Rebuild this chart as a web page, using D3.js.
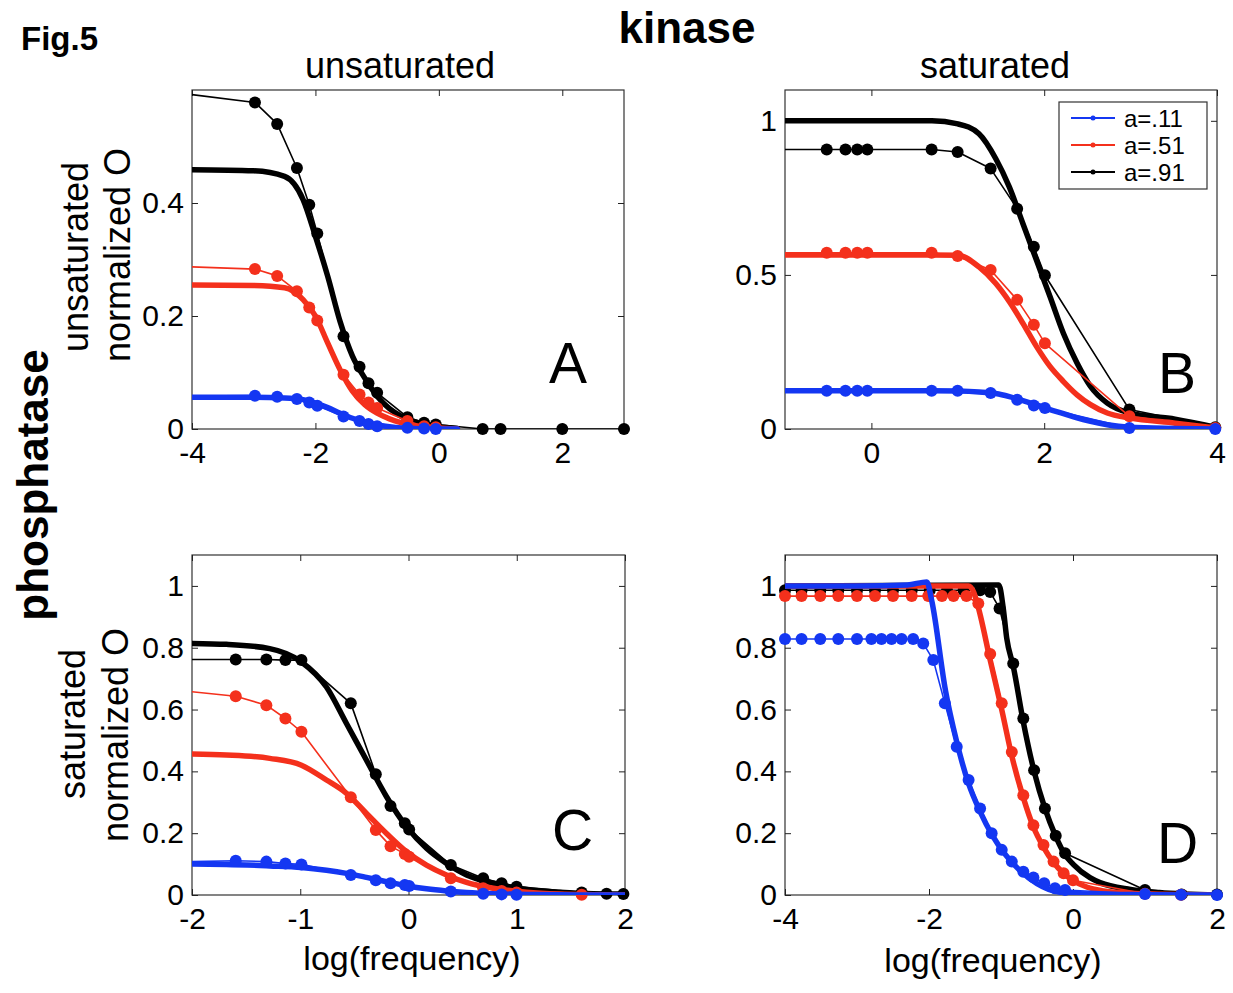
<!DOCTYPE html>
<html>
<head>
<meta charset="utf-8">
<script src="https://d3js.org/d3.v7.min.js"></script>
<style>
  body { margin: 0; background: #fff; }
  text { font-family: "Liberation Sans", Arial, sans-serif; fill: #000; }
  .tick line { stroke: #222; }
</style>
</head>
<body>
<div id="my_dataviz"></div>
<script>
// ---------- data ----------
var legendLabels = ["a=.11", "a=.51", "a=.91"];
var seriesColors = ["#1437f2", "#f4301c", "#000000"];

// panel A : unsaturated kinase / unsaturated phosphatase
var A_xTicks = [-4, -2, 0, 2];
var A_yTicks = [0, 0.2, 0.4];
var A_dotX      = [-4.3, -2.98, -2.62, -2.30, -2.10, -1.97, -1.545, -1.285, -1.14, -1.0, -0.51, -0.24, -0.05];
var A_dotX_blk  = [-4.3, -2.98, -2.62, -2.30, -2.10, -1.97, -1.545, -1.285, -1.14, -1.0, -0.51, -0.24, -0.05, 0.71, 1.0, 2.0, 3.0];
var A_dot_blue  = [0.058, 0.059, 0.057, 0.053, 0.047, 0.041, 0.022, 0.014, 0.009, 0.005, 0.002, 0.001, 0.0];
var A_dot_red   = [0.288, 0.283, 0.271, 0.244, 0.215, 0.192, 0.096, 0.061, 0.047, 0.037, 0.014, 0.005, 0.003];
var A_dot_blk   = [0.596, 0.578, 0.54, 0.462, 0.397, 0.346, 0.164, 0.110, 0.081, 0.064, 0.021, 0.011, 0.008, 0, 0, 0, 0];
var A_fitX      = [-4, -3, -2.5, -2.2, -2.0, -1.8, -1.6, -1.4, -1.2, -1.0, -0.8, -0.6, -0.4, -0.2, 0, 0.3];
var A_fit_blue  = [0.056, 0.056, 0.055, 0.052, 0.046, 0.038, 0.028, 0.019, 0.012, 0.007, 0.004, 0.002, 0.001, 0.0, 0, 0];
var A_fit_red   = [0.255, 0.254, 0.25, 0.229, 0.2, 0.152, 0.105, 0.067, 0.043, 0.028, 0.018, 0.011, 0.006, 0.004, 0.002, 0];
var A_fit_blk   = [0.459, 0.457, 0.447, 0.406, 0.341, 0.27, 0.19, 0.129, 0.09, 0.058, 0.036, 0.022, 0.013, 0.008, 0.004, 0.001];

// panel B : saturated kinase / unsaturated phosphatase
var B_xTicks = [0, 2, 4];
var B_yTicks = [0, 0.5, 1];
var B_dotX      = [-1.3, -0.517, -0.30, -0.164, -0.047, 0.697, 0.998, 1.38, 1.687, 1.88, 2.008, 2.986, 3.98];
var B_dot_blue  = [0.124, 0.124, 0.124, 0.124, 0.124, 0.124, 0.124, 0.117, 0.095, 0.076, 0.068, 0.003, 0.0];
var B_dot_red   = [0.572, 0.572, 0.572, 0.572, 0.572, 0.572, 0.561, 0.516, 0.419, 0.338, 0.278, 0.041, 0.003];
var B_dot_blk   = [0.907, 0.907, 0.907, 0.907, 0.907, 0.907, 0.899, 0.845, 0.715, 0.591, 0.499, 0.063, 0.006];
var B_fitX      = [-1, 0, 0.7, 1.0, 1.245, 1.44, 1.597, 1.753, 1.91, 2.067, 2.223, 2.38, 2.536, 2.73, 2.986, 3.515, 4.0];
var B_fit_blue  = [0.124, 0.124, 0.124, 0.123, 0.12, 0.115, 0.105, 0.092, 0.078, 0.063, 0.05, 0.036, 0.025, 0.014, 0.006, 0.002, 0.0];
var B_fit_red   = [0.565, 0.565, 0.565, 0.564, 0.526, 0.472, 0.413, 0.343, 0.268, 0.203, 0.154, 0.111, 0.079, 0.052, 0.036, 0.019, 0.003];
var B_fit_blk   = [1.0, 1.0, 1.0, 0.99, 0.958, 0.877, 0.785, 0.667, 0.548, 0.43, 0.31, 0.214, 0.138, 0.084, 0.052, 0.032, 0.005];

// panel C : unsaturated kinase / saturated phosphatase
var C_xTicks = [-2, -1, 0, 1, 2];
var C_yTicks = [0, 0.2, 0.4, 0.6, 0.8, 1];
var C_dotX_blue = [-2.3, -1.596, -1.313, -1.137, -0.989, -0.533, -0.302, -0.166, -0.034, 0.006, 0.391, 0.69, 0.86, 0.998];
var C_dotX_red  = [-2.3, -1.596, -1.313, -1.137, -0.989, -0.533, -0.302, -0.166, -0.034, 0.006, 0.391, 0.69, 0.86, 0.998, 1.6];
var C_dotX_blk  = [-2.3, -1.596, -1.313, -1.137, -0.989, -0.533, -0.302, -0.166, -0.034, 0.006, 0.391, 0.69, 0.86, 0.998, 1.6, 1.83, 1.985];
var C_dot_blue  = [0.106, 0.111, 0.108, 0.102, 0.099, 0.065, 0.048, 0.038, 0.032, 0.029, 0.011, 0.004, 0.002, 0.001];
var C_dot_red   = [0.668, 0.643, 0.614, 0.571, 0.528, 0.316, 0.21, 0.158, 0.133, 0.124, 0.054, 0.022, 0.013, 0.008, 0.001];
var C_dot_blk   = [0.762, 0.762, 0.762, 0.76, 0.76, 0.62, 0.391, 0.288, 0.232, 0.212, 0.097, 0.054, 0.038, 0.027, 0.008, 0.004, 0.003];
var C_fitX      = [-2, -1.683, -1.282, -0.989, -0.758, -0.573, -0.388, -0.203, -0.018, 0.166, 0.351, 0.536, 0.783, 1.091, 1.399, 1.707, 2];
var C_fit_blue  = [0.1, 0.099, 0.094, 0.089, 0.08, 0.07, 0.057, 0.043, 0.03, 0.02, 0.013, 0.008, 0.004, 0.002, 0.001, 0, 0];
var C_fit_red   = [0.456, 0.453, 0.442, 0.42, 0.372, 0.329, 0.264, 0.199, 0.14, 0.097, 0.065, 0.041, 0.022, 0.009, 0.003, 0.001, 0];
var C_fit_blk   = [0.814, 0.811, 0.797, 0.754, 0.673, 0.555, 0.436, 0.318, 0.221, 0.151, 0.102, 0.065, 0.038, 0.018, 0.009, 0.004, 0.003];

// panel D : saturated kinase / saturated phosphatase
var D_xTicks = [-4, -2, 0, 2];
var D_yTicks = [0, 0.2, 0.4, 0.6, 0.8, 1];
var D_dotX_blue = [-4, -3.77, -3.51, -3.26, -3.0, -2.8, -2.66, -2.52, -2.38, -2.22, -2.08, -1.94, -1.78, -1.615, -1.45, -1.29, -1.13, -0.99, -0.85, -0.69, -0.55, -0.40, -0.25, -0.11, 1.0, 1.5, 2.0];
var D_dot_blue  = [0.828, 0.828, 0.828, 0.828, 0.828, 0.828, 0.828, 0.828, 0.828, 0.828, 0.814, 0.76, 0.62, 0.48, 0.372, 0.28, 0.2, 0.146, 0.108, 0.075, 0.057, 0.038, 0.022, 0.016, 0.003, 0.001, 0];
var D_dotX_red  = [-4, -3.77, -3.51, -3.26, -3.0, -2.75, -2.5, -2.24, -2.01, -1.82, -1.66, -1.48, -1.315, -1.15, -0.99, -0.85, -0.69, -0.55, -0.41, -0.27, -0.13, 0.0, 1.0, 1.5];
var D_dot_red   = [0.967, 0.967, 0.967, 0.967, 0.967, 0.967, 0.967, 0.967, 0.967, 0.967, 0.967, 0.967, 0.943, 0.78, 0.62, 0.463, 0.323, 0.226, 0.162, 0.108, 0.07, 0.048, 0.004, 0.001];
var D_dotX_blk  = [-4, -3.77, -3.51, -3.26, -3.0, -2.75, -2.5, -2.24, -1.99, -1.75, -1.52, -1.29, -1.15, -1.02, -0.83, -0.69, -0.54, -0.39, -0.24, -0.11, 1.0, 1.51, 2.0];
var D_dot_blk   = [0.986, 0.986, 0.986, 0.986, 0.986, 0.986, 0.986, 0.986, 0.986, 0.986, 0.986, 0.986, 0.98, 0.927, 0.749, 0.571, 0.404, 0.28, 0.192, 0.135, 0.016, 0.002, 0.002];
var D_fitX_blue = [-4, -3, -2.3, -2.03, -1.96, -1.77, -1.62, -1.45, -1.29, -1.12, -0.95, -0.74, -0.5, -0.2, 0.2, 1.0, 2.0];
var D_fit_blue  = [1.0, 1.0, 1.003, 1.013, 0.95, 0.66, 0.5, 0.36, 0.27, 0.193, 0.134, 0.08, 0.037, 0.01, 0.003, 0.001, 0];
var D_fitX_red  = [-4, -1.45, -1.38, -1.315, -1.15, -0.99, -0.85, -0.69, -0.55, -0.41, -0.27, -0.13, 0.0, 0.2, 0.4, 0.7, 1.0, 2.0];
var D_fit_red   = [1.0, 1.0, 0.98, 0.93, 0.76, 0.6, 0.45, 0.315, 0.22, 0.155, 0.105, 0.07, 0.047, 0.025, 0.014, 0.007, 0.004, 0];
var D_fitX_blk  = [-4, -1.03, -0.97, -0.92, -0.83, -0.69, -0.54, -0.39, -0.24, -0.11, 0.0, 0.236, 0.375, 0.8, 1.2, 2.0];
var D_fit_blk   = [1.0, 1.003, 0.93, 0.83, 0.74, 0.56, 0.4, 0.28, 0.19, 0.13, 0.1, 0.056, 0.04, 0.018, 0.008, 0];

// ---------- layout ----------
var panels = [
  { id: "A", box: [192, 90, 624, 429], xDom: [-4, 3], yDom: [0, 0.6], xTicks: A_xTicks, yTicks: A_yTicks, letter: [549, 383],
    series: [ [A_fitX, A_fit_blk, A_dotX_blk, A_dot_blk], [A_fitX, A_fit_red, A_dotX, A_dot_red], [A_fitX, A_fit_blue, A_dotX, A_dot_blue] ] },
  { id: "B", box: [785, 90, 1217, 429], xDom: [-1, 4], yDom: [0, 1.1], xTicks: B_xTicks, yTicks: B_yTicks, letter: [1158, 393],
    series: [ [B_fitX, B_fit_blk, B_dotX, B_dot_blk], [B_fitX, B_fit_red, B_dotX, B_dot_red], [B_fitX, B_fit_blue, B_dotX, B_dot_blue] ] },
  { id: "C", box: [192, 555, 625, 895], xDom: [-2, 2], yDom: [0, 1.1], xTicks: C_xTicks, yTicks: C_yTicks, letter: [552, 850],
    series: [ [C_fitX, C_fit_blk, C_dotX_blk, C_dot_blk], [C_fitX, C_fit_red, C_dotX_red, C_dot_red], [C_fitX, C_fit_blue, C_dotX_blue, C_dot_blue] ] },
  { id: "D", box: [785, 555, 1217, 895], xDom: [-4, 2], yDom: [0, 1.1], xTicks: D_xTicks, yTicks: D_yTicks, letter: [1157, 863],
    series: [ [D_fitX_blk, D_fit_blk, D_dotX_blk, D_dot_blk], [D_fitX_red, D_fit_red, D_dotX_red, D_dot_red], [D_fitX_blue, D_fit_blue, D_dotX_blue, D_dot_blue] ] }
];
// series are listed black, red, blue (drawing order)
var drawColors = [seriesColors[2], seriesColors[1], seriesColors[0]];

var svg = d3.select("#my_dataviz")
  .append("svg")
  .attr("width", 1233)
  .attr("height", 993);

var fmt = function (d) { return String(d); };

panels.forEach(function (p) {
  var x0 = p.box[0], y0 = p.box[1], x1 = p.box[2], y1 = p.box[3];
  var x = d3.scaleLinear().domain(p.xDom).range([x0, x1]);
  var y = d3.scaleLinear().domain(p.yDom).range([y1, y0]);

  svg.append("clipPath").attr("id", "clip" + p.id)
    .append("rect").attr("x", x0).attr("y", y0).attr("width", x1 - x0).attr("height", y1 - y0);

  // box + inward ticks on all sides
  svg.append("rect").attr("x", x0).attr("y", y0).attr("width", x1 - x0).attr("height", y1 - y0)
    .style("fill", "none").style("stroke", "#333").style("stroke-width", 1.2);

  var ax = [
    svg.append("g").attr("transform", "translate(0," + y1 + ")")
      .call(d3.axisBottom(x).tickValues(p.xTicks).tickFormat(fmt).tickSize(-6).tickSizeOuter(0).tickPadding(13)),
    svg.append("g").attr("transform", "translate(0," + y0 + ")")
      .call(d3.axisTop(x).tickValues(p.xTicks).tickFormat("").tickSize(-6).tickSizeOuter(0)),
    svg.append("g").attr("transform", "translate(" + x0 + ",0)")
      .call(d3.axisLeft(y).tickValues(p.yTicks).tickFormat(fmt).tickSize(-6).tickSizeOuter(0).tickPadding(8)),
    svg.append("g").attr("transform", "translate(" + x1 + ",0)")
      .call(d3.axisRight(y).tickValues(p.yTicks).tickFormat("").tickSize(-6).tickSizeOuter(0))
  ];
  ax.forEach(function (a) {
    a.select(".domain").remove();
    a.selectAll("text").style("font-family", "'Liberation Sans', Arial, sans-serif").style("font-size", "30px").style("fill", "#000");
  });

  var line = d3.line().x(function (d) { return x(d[0]); }).y(function (d) { return y(d[1]); });
  var smooth = d3.line().curve(d3.curveMonotoneX).x(function (d) { return x(d[0]); }).y(function (d) { return y(d[1]); });

  p.series.forEach(function (s, k) {
    var color = drawColors[k];
    var fit = s[0].map(function (v, i) { return [v, s[1][i]]; });
    var dots = s[2].map(function (v, i) { return [v, s[3][i]]; });

    svg.append("path").datum(fit)
      .attr("d", smooth).attr("clip-path", "url(#clip" + p.id + ")")
      .style("fill", "none").style("stroke", color).style("stroke-width", 5.5)
      .style("stroke-linejoin", "round").style("stroke-linecap", "round");

    svg.append("path").datum(dots)
      .attr("d", line).attr("clip-path", "url(#clip" + p.id + ")")
      .style("fill", "none").style("stroke", color).style("stroke-width", 1.6)
      .style("stroke-linejoin", "round");

    svg.selectAll(null)
      .data(dots.filter(function (d) { return d[0] >= p.xDom[0] && d[0] <= p.xDom[1]; }))
      .enter()
      .append("circle")
      .attr("cx", function (d) { return x(d[0]); })
      .attr("cy", function (d) { return y(d[1]); })
      .attr("r", 6)
      .style("fill", color);
  });

  svg.append("text").attr("x", p.letter[0]).attr("y", p.letter[1])
    .text(p.id).style("font-size", "57px");
});

// legend in panel B
var leg = svg.append("g");
leg.append("rect").attr("x", 1059).attr("y", 102).attr("width", 148).attr("height", 87)
  .style("fill", "#fff").style("stroke", "#333").style("stroke-width", 1.2);
legendLabels.forEach(function (lab, i) {
  var ly = 118 + i * 27;
  leg.append("line").attr("x1", 1071).attr("x2", 1115).attr("y1", ly).attr("y2", ly)
    .style("stroke", seriesColors[i]).style("stroke-width", 2);
  leg.append("circle").attr("cx", 1093).attr("cy", ly).attr("r", 2.5).style("fill", seriesColors[i]);
  leg.append("text").attr("x", 1124).attr("y", ly).attr("dy", "0.36em")
    .text(lab).style("font-size", "24px");
});

// figure texts
svg.append("text").attr("x", 21).attr("y", 50).text("Fig.5")
  .style("font-size", "33px").style("font-weight", "bold");
svg.append("text").attr("x", 687).attr("y", 43).attr("text-anchor", "middle").text("kinase")
  .style("font-size", "44px").style("font-weight", "bold");
svg.append("text").attr("x", 400).attr("y", 78).attr("text-anchor", "middle").text("unsaturated")
  .style("font-size", "36px");
svg.append("text").attr("x", 995).attr("y", 78).attr("text-anchor", "middle").text("saturated")
  .style("font-size", "36px");
svg.append("text").attr("transform", "translate(48,485) rotate(-90)").attr("text-anchor", "middle")
  .text("phosphatase").style("font-size", "44px").style("font-weight", "bold");

svg.append("text").attr("transform", "translate(88,257) rotate(-90)").attr("text-anchor", "middle")
  .text("unsaturated").style("font-size", "36px");
svg.append("text").attr("transform", "translate(130,255) rotate(-90)").attr("text-anchor", "middle")
  .text("normalized O").style("font-size", "36px");
svg.append("text").attr("transform", "translate(85,724) rotate(-90)").attr("text-anchor", "middle")
  .text("saturated").style("font-size", "36px");
svg.append("text").attr("transform", "translate(128,735) rotate(-90)").attr("text-anchor", "middle")
  .text("normalized O").style("font-size", "36px");

svg.append("text").attr("x", 412).attr("y", 970).attr("text-anchor", "middle").text("log(frequency)")
  .style("font-size", "34px");
svg.append("text").attr("x", 993).attr("y", 972).attr("text-anchor", "middle").text("log(frequency)")
  .style("font-size", "34px");
</script>
</body>
</html>
